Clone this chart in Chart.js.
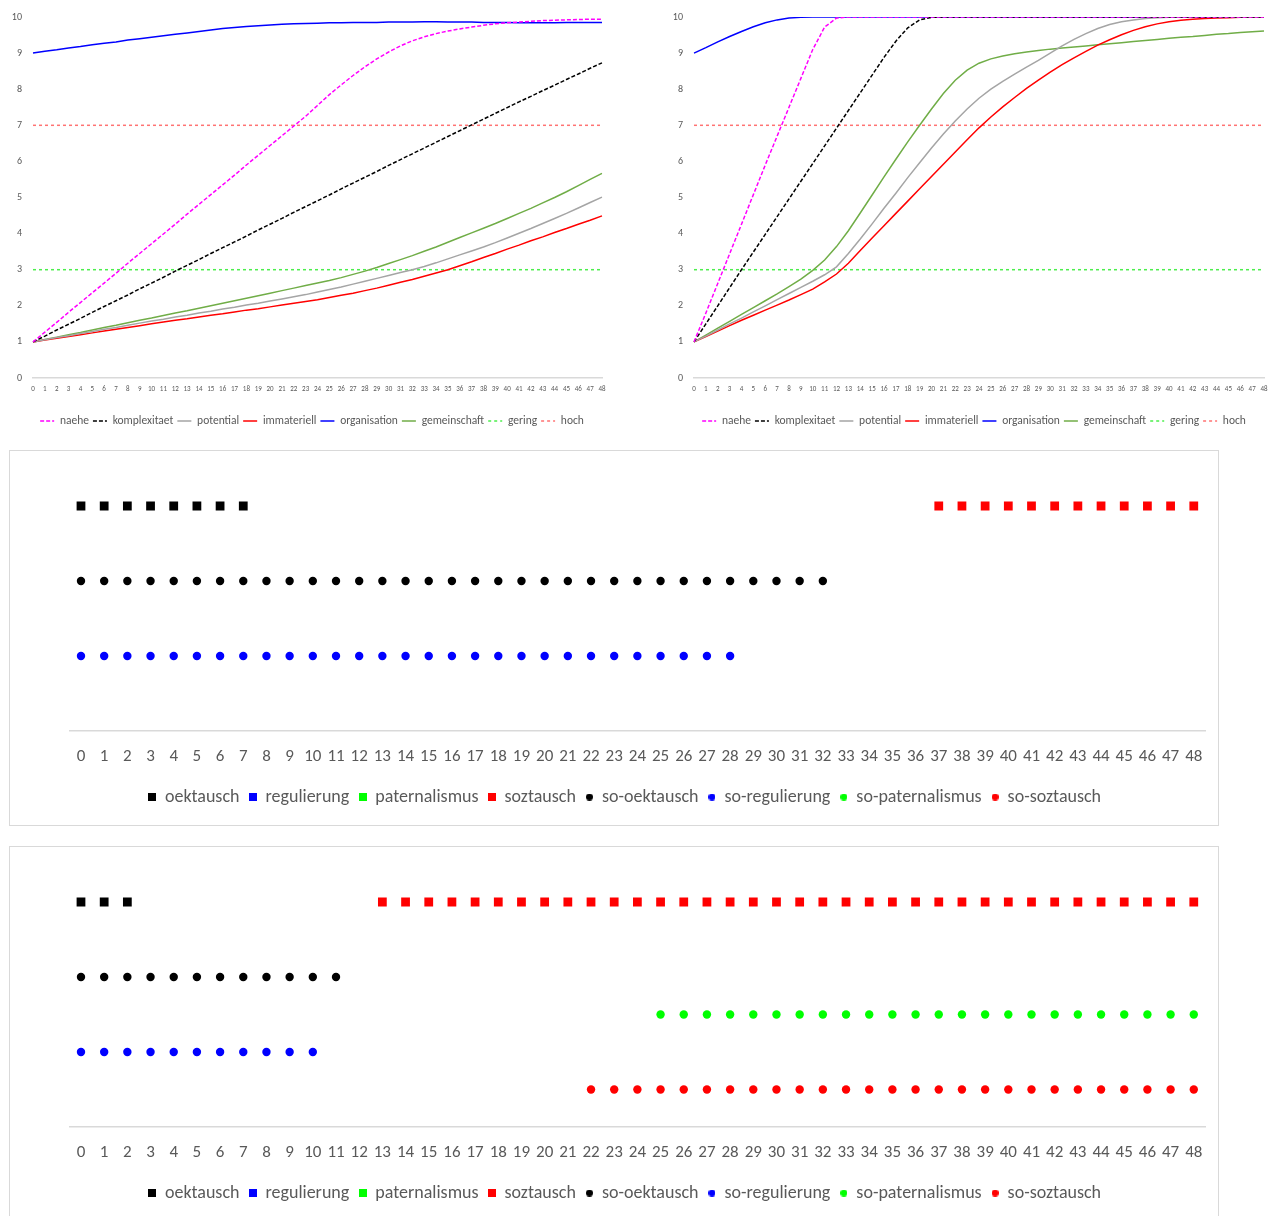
<!DOCTYPE html>
<html lang="de">
<head>
<meta charset="UTF-8">
<title>Verlauf</title>
<style>
  body { margin: 0; background: #fff; width: 1274px; height: 1216px; overflow: hidden; position: relative; }
  canvas { position: absolute; }
  .box { position: absolute; left: 9px; width: 1208px; height: 374px; border: 1px solid #d9d9d9; }
  .box canvas { left: 0; top: 0; }
</style>
</head>
<body>
<canvas id="lineA" width="624" height="440" style="left:0;top:0"></canvas>
<canvas id="lineB" width="628" height="440" style="left:660px;top:0"></canvas>
<div class="box" style="top:450px"><canvas id="dotsA" width="1208" height="374"></canvas></div>
<div class="box" style="top:846px"><canvas id="dotsB" width="1208" height="374"></canvas></div>

<script src="https://cdn.jsdelivr.net/npm/chart.js@4"></script>
<script>
// x-axis periods (tick labels)
const periods = [0, 1, 2, 3, 4, 5, 6, 7, 8, 9, 10, 11, 12, 13, 14, 15, 16, 17, 18, 19, 20, 21, 22, 23, 24,
  25, 26, 27, 28, 29, 30, 31, 32, 33, 34, 35, 36, 37, 38, 39, 40, 41, 42, 43, 44, 45, 46, 47, 48];
const yTicksLine = [0, 1, 2, 3, 4, 5, 6, 7, 8, 9, 10];

// upper left chart
const naeheA = [1.00, 1.27, 1.54, 1.82, 2.09, 2.36, 2.63, 2.90, 3.18, 3.45, 3.72, 3.99, 4.26, 4.54, 4.81, 5.08, 5.35,
  5.62, 5.90, 6.17, 6.44, 6.71, 6.98, 7.25, 7.55, 7.85, 8.12, 8.38, 8.62, 8.84, 9.03, 9.20, 9.34, 9.45, 9.54,
  9.61, 9.67, 9.72, 9.77, 9.81, 9.84, 9.86, 9.88, 9.90, 9.91, 9.92, 9.93, 9.94, 9.94];
const komplexitaetA = [1.00, 1.16, 1.33, 1.49, 1.65, 1.82, 1.98, 2.14, 2.30, 2.47, 2.63, 2.79, 2.96, 3.12, 3.28, 3.45,
  3.61, 3.77, 3.93, 4.10, 4.26, 4.42, 4.59, 4.75, 4.91, 5.07, 5.24, 5.40, 5.56, 5.72, 5.89, 6.05, 6.21, 6.37,
  6.53, 6.69, 6.85, 7.01, 7.17, 7.33, 7.49, 7.65, 7.80, 7.96, 8.11, 8.27, 8.42, 8.58, 8.73];
const potentialA = [1.00, 1.06, 1.12, 1.17, 1.23, 1.29, 1.35, 1.40, 1.46, 1.52, 1.58, 1.63, 1.69, 1.74, 1.80, 1.85,
  1.91, 1.96, 2.02, 2.07, 2.13, 2.19, 2.25, 2.31, 2.38, 2.45, 2.52, 2.60, 2.68, 2.76, 2.84, 2.92, 3.00, 3.09,
  3.19, 3.30, 3.41, 3.52, 3.63, 3.75, 3.88, 4.01, 4.14, 4.28, 4.42, 4.56, 4.71, 4.86, 5.01];
const immateriellA = [1.00, 1.05, 1.10, 1.15, 1.20, 1.25, 1.30, 1.35, 1.40, 1.45, 1.50, 1.55, 1.60, 1.64, 1.69, 1.74,
  1.78, 1.83, 1.88, 1.92, 1.97, 2.02, 2.07, 2.12, 2.17, 2.23, 2.29, 2.35, 2.42, 2.49, 2.57, 2.65, 2.73, 2.82,
  2.91, 3.00, 3.11, 3.22, 3.34, 3.45, 3.57, 3.68, 3.80, 3.91, 4.03, 4.14, 4.26, 4.37, 4.49];
const organisationA = [9.00, 9.05, 9.09, 9.14, 9.18, 9.23, 9.27, 9.31, 9.36, 9.40, 9.44, 9.48, 9.52, 9.56, 9.60, 9.64,
  9.68, 9.71, 9.74, 9.76, 9.78, 9.80, 9.81, 9.82, 9.83, 9.84, 9.84, 9.85, 9.85, 9.85, 9.86, 9.86, 9.86, 9.87,
  9.87, 9.86, 9.86, 9.86, 9.85, 9.85, 9.85, 9.84, 9.84, 9.84, 9.84, 9.85, 9.85, 9.85, 9.85];
const gemeinschaftA = [1.00, 1.07, 1.13, 1.20, 1.26, 1.33, 1.40, 1.46, 1.53, 1.60, 1.66, 1.73, 1.80, 1.86, 1.93, 2.00,
  2.07, 2.14, 2.21, 2.28, 2.35, 2.42, 2.49, 2.56, 2.63, 2.70, 2.78, 2.87, 2.96, 3.06, 3.17, 3.28, 3.39, 3.51,
  3.63, 3.76, 3.89, 4.02, 4.15, 4.28, 4.42, 4.56, 4.70, 4.85, 5.00, 5.16, 5.33, 5.50, 5.67];

// upper right chart
const naeheB = [1.00, 1.80, 2.62, 3.44, 4.26, 5.08, 5.90, 6.70, 7.50, 8.30, 9.10, 9.72, 9.97, 10, 10, 10, 10, 10,
  10, 10, 10, 10, 10, 10, 10, 10, 10, 10, 10, 10, 10, 10, 10, 10, 10, 10, 10, 10, 10, 10, 10, 10, 10, 10, 10,
  10, 10, 10, 10];
const komplexitaetB = [1.00, 1.50, 2.00, 2.50, 3.00, 3.49, 3.98, 4.47, 4.96, 5.45, 5.94, 6.43, 6.92, 7.41, 7.90, 8.39,
  8.88, 9.33, 9.70, 9.92, 9.99, 10, 10, 10, 10, 10, 10, 10, 10, 10, 10, 10, 10, 10, 10, 10, 10, 10, 10, 10, 10,
  10, 10, 10, 10, 10, 10, 10, 10];
const potentialB = [1.00, 1.16, 1.33, 1.50, 1.66, 1.83, 2.00, 2.17, 2.34, 2.51, 2.68, 2.86, 3.08, 3.45, 3.85, 4.27,
  4.70, 5.12, 5.55, 5.96, 6.37, 6.76, 7.12, 7.45, 7.75, 8.00, 8.22, 8.42, 8.61, 8.80, 9.00, 9.20, 9.38, 9.54,
  9.68, 9.79, 9.87, 9.92, 9.96, 9.98, 9.99, 10, 10, 10, 10, 10, 10, 10, 10];
const immateriellB = [1.00, 1.15, 1.30, 1.45, 1.60, 1.74, 1.88, 2.02, 2.16, 2.31, 2.46, 2.66, 2.88, 3.18, 3.53, 3.88,
  4.22, 4.56, 4.90, 5.24, 5.58, 5.92, 6.26, 6.60, 6.93, 7.23, 7.51, 7.77, 8.02, 8.25, 8.47, 8.68, 8.87, 9.05,
  9.22, 9.37, 9.51, 9.63, 9.73, 9.81, 9.87, 9.91, 9.94, 9.96, 9.97, 9.98, 9.99, 9.99, 10.00];
const organisationB = [9.00, 9.15, 9.31, 9.46, 9.60, 9.73, 9.84, 9.92, 9.97, 9.99, 10, 10, 10, 10, 10, 10, 10, 10, 10,
  10, 10, 10, 10, 10, 10, 10, 10, 10, 10, 10, 10, 10, 10, 10, 10, 10, 10, 10, 10, 10, 10, 10, 10, 10, 10, 10,
  10, 10, 10];
const gemeinschaftB = [1.00, 1.19, 1.38, 1.57, 1.76, 1.95, 2.14, 2.33, 2.53, 2.74, 2.98, 3.27, 3.64, 4.08, 4.57, 5.07,
  5.57, 6.06, 6.54, 7.00, 7.45, 7.88, 8.25, 8.53, 8.72, 8.84, 8.92, 8.98, 9.03, 9.07, 9.11, 9.14, 9.17, 9.20,
  9.23, 9.26, 9.29, 9.32, 9.35, 9.38, 9.41, 9.44, 9.46, 9.49, 9.52, 9.54, 9.57, 9.59, 9.61];

// threshold lines
const geringValue = 3;
const hochValue = 7;

// dot charts: periods at which each state is present
const oektauschA = [0, 1, 2, 3, 4, 5, 6, 7];
const regulierungA = [];
const paternalismusA = [];
const soztauschA = [37, 38, 39, 40, 41, 42, 43, 44, 45, 46, 47, 48];
const soOektauschA = [0, 1, 2, 3, 4, 5, 6, 7, 8, 9, 10, 11, 12, 13, 14, 15, 16, 17, 18, 19, 20, 21, 22, 23, 24, 25,
  26, 27, 28, 29, 30, 31, 32];
const soRegulierungA = [0, 1, 2, 3, 4, 5, 6, 7, 8, 9, 10, 11, 12, 13, 14, 15, 16, 17, 18, 19, 20, 21, 22, 23, 24,
  25, 26, 27, 28];
const soPaternalismusA = [];
const soSoztauschA = [];

const oektauschB = [0, 1, 2];
const regulierungB = [];
const paternalismusB = [];
const soztauschB = [13, 14, 15, 16, 17, 18, 19, 20, 21, 22, 23, 24, 25, 26, 27, 28, 29, 30, 31, 32, 33, 34, 35, 36,
  37, 38, 39, 40, 41, 42, 43, 44, 45, 46, 47, 48];
const soOektauschB = [0, 1, 2, 3, 4, 5, 6, 7, 8, 9, 10, 11];
const soRegulierungB = [0, 1, 2, 3, 4, 5, 6, 7, 8, 9, 10];
const soPaternalismusB = [25, 26, 27, 28, 29, 30, 31, 32, 33, 34, 35, 36, 37, 38, 39, 40, 41, 42, 43, 44, 45, 46,
  47, 48];
const soSoztauschB = [22, 23, 24, 25, 26, 27, 28, 29, 30, 31, 32, 33, 34, 35, 36, 37, 38, 39, 40, 41, 42, 43, 44,
  45, 46, 47, 48];

// row height of each state in the dot charts
const dotLevels = [3, 3, 3, 3, 2, 1, 1.5, 0.5];

// names and styles
const lineNames = ['naehe', 'komplexitaet', 'potential', 'immateriell', 'organisation', 'gemeinschaft', 'gering', 'hoch'];
const lineColors = ['#ff00ff', '#000000', '#a5a5a5', '#ff0000', '#0000ff', '#70ad47', '#4cee4c', '#ff7373'];
const lineDashes = [[4, 2], [4, 2], [], [], [], [], [3, 3], [3, 3]];

const dotNames = ['oektausch', 'regulierung', 'paternalismus', 'soztausch',
  'so-oektausch', 'so-regulierung', 'so-paternalismus', 'so-soztausch'];
const dotColors = ['#000000', '#0000ff', '#00ff00', '#ff0000', '#000000', '#0000ff', '#00ff00', '#ff0000'];
const dotShapes = ['rect', 'rect', 'rect', 'rect', 'circle', 'circle', 'circle', 'circle'];

Chart.defaults.font.family = "Carlito, Calibri, Lato, 'Liberation Sans', sans-serif";
Chart.defaults.color = '#595959';
Chart.defaults.animation = false;
Chart.defaults.events = [];

const lastPeriod = periods[periods.length - 1];

function makeLineChart(id, curves, yWidth, rightWidth) {
  const datasets = curves.map((d, i) => ({
    label: lineNames[i], data: d
  }));
  datasets.push({ label: 'gering', data: [{ x: periods[0], y: geringValue }, { x: lastPeriod, y: geringValue }] });
  datasets.push({ label: 'hoch', data: [{ x: periods[0], y: hochValue }, { x: lastPeriod, y: hochValue }] });
  datasets.forEach((ds, i) => {
    ds.borderColor = lineColors[i];
    ds.backgroundColor = lineColors[i];
    ds.borderDash = lineDashes[i];
    ds.borderWidth = 1.5;
    ds.pointRadius = 0;
    ds.tension = 0;
    ds.fill = false;
  });

  new Chart(document.getElementById(id), {
    type: 'line',
    data: { labels: periods, datasets },
    options: {
      responsive: false,
      layout: { padding: { left: 0, right: 0, top: 15, bottom: 3.25 } },
      plugins: {
        tooltip: { enabled: false },
        legend: {
          position: 'bottom',
          labels: {
            usePointStyle: true,
            pointStyle: 'line',
            pointStyleWidth: 14,
            padding: 4,
            font: { size: 11.5 },
            color: '#595959',
            generateLabels(chart) {
              const items = Chart.defaults.plugins.legend.labels.generateLabels(chart);
              items.forEach(it => {
                const ds = chart.data.datasets[it.datasetIndex];
                it.lineDash = ds.borderDash;
                it.strokeStyle = ds.borderColor;
                it.lineWidth = ds.borderWidth;
              });
              return items;
            }
          }
        }
      },
      scales: {
        x: {
          offset: false,
          grid: { display: false, drawTicks: false },
          border: { color: '#d9d9d9', width: 1.5 },
          ticks: { autoSkip: false, maxRotation: 0, minRotation: 0, font: { size: 7 }, padding: 7.5 },
          afterFit: s => { s.height = 33.25; }
        },
        y: {
          min: yTicksLine[0],
          max: yTicksLine[yTicksLine.length - 1],
          grid: { display: false, drawTicks: false },
          border: { display: false },
          ticks: { stepSize: 1, font: { size: 10 }, padding: 11 },
          afterFit: s => { s.width = yWidth; }
        },
        y2: {
          position: 'right',
          grid: { display: false, drawTicks: false },
          border: { display: false },
          ticks: { display: false },
          afterFit: s => { s.width = rightWidth; }
        }
      }
    }
  });
}

function markerImage(shape, color) {
  const size = shape === 'rect' ? 8 : 7;
  const c = document.createElement('canvas');
  c.width = size;
  c.height = size;
  const g = c.getContext('2d');
  g.fillStyle = color;
  if (shape === 'rect') {
    g.fillRect(0, 0, size, size);
  } else {
    g.beginPath();
    g.arc(size / 2, size / 2, size / 2, 0, Math.PI * 2);
    g.fill();
  }
  return c;
}

function makeDotChart(id, seriesList) {
  const datasets = seriesList.map((xs, i) => ({
    label: dotNames[i],
    data: xs.map(x => ({ x, y: dotLevels[i] })),
    showLine: false,
    pointStyle: dotShapes[i],
    pointRadius: dotShapes[i] === 'rect' ? 6.2 : 4.2,
    pointBorderWidth: 0,
    borderWidth: 0,
    backgroundColor: dotColors[i],
    borderColor: dotColors[i]
  }));

  new Chart(document.getElementById(id), {
    type: 'line',
    data: { labels: periods, datasets },
    options: {
      responsive: false,
      layout: { padding: { left: 22, right: 0, top: 17.5, bottom: 9 } },
      plugins: {
        tooltip: { enabled: false },
        legend: {
          position: 'bottom',
          labels: {
            usePointStyle: true,
            boxWidth: 7,
            boxHeight: 8,
            padding: 10,
            font: { size: 18 },
            color: '#595959',
            generateLabels(chart) {
              const items = Chart.defaults.plugins.legend.labels.generateLabels(chart);
              items.forEach(it => {
                const i = it.datasetIndex;
                it.pointStyle = markerImage(dotShapes[i], dotColors[i]);
              });
              return items;
            }
          }
        }
      },
      scales: {
        x: {
          offset: true,
          grid: { display: false, drawTicks: false },
          border: { color: '#d9d9d9', width: 1.5 },
          ticks: { autoSkip: false, maxRotation: 0, minRotation: 0, font: { size: 17 }, padding: 15.5 },
          afterFit: s => { s.height = 47; }
        },
        y: {
          min: 0,
          max: 3.5,
          grid: { display: false, drawTicks: false },
          border: { display: false },
          ticks: { display: false },
          afterFit: s => { s.width = 37.4; }
        },
        y2: {
          position: 'right',
          grid: { display: false, drawTicks: false },
          border: { display: false },
          ticks: { display: false },
          afterFit: s => { s.width = 10.4; }
        }
      }
    }
  });
}

makeLineChart('lineA', [naeheA, komplexitaetA, potentialA, immateriellA, organisationA, gemeinschaftA], 33, 22);
makeLineChart('lineB', [naeheB, komplexitaetB, potentialB, immateriellB, organisationB, gemeinschaftB], 34, 24);

makeDotChart('dotsA', [oektauschA, regulierungA, paternalismusA, soztauschA,
  soOektauschA, soRegulierungA, soPaternalismusA, soSoztauschA]);
makeDotChart('dotsB', [oektauschB, regulierungB, paternalismusB, soztauschB,
  soOektauschB, soRegulierungB, soPaternalismusB, soSoztauschB]);
</script>
</body>
</html>
